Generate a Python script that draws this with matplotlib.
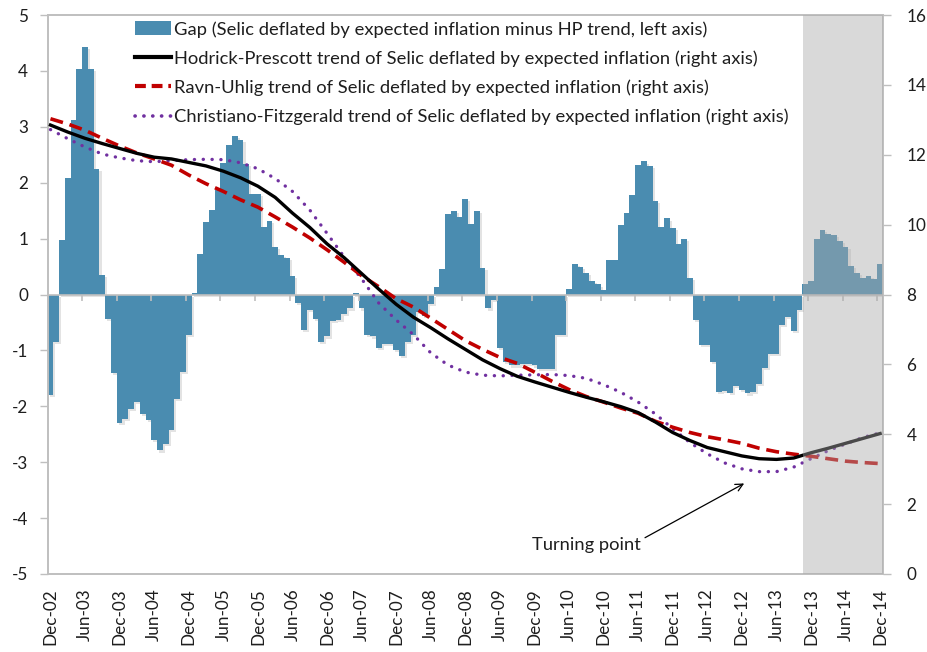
import numpy as np
import matplotlib
matplotlib.use('Agg')
import matplotlib.pyplot as plt
from matplotlib.patches import Patch
from matplotlib.lines import Line2D
import matplotlib.patheffects as pe

plt.rcParams['font.family'] = ['Lato', 'DejaVu Sans']
plt.rcParams['axes.unicode_minus'] = False

# Monthly gap (left axis), Dec-02 .. Dec-14
gap = [-1.80, -0.85, 0.97, 2.08, 3.12, 4.03, 4.43, 4.03, 2.24, 0.35,
       -0.43, -1.41, -2.30, -2.22, -2.04, -1.92, -2.13, -2.24, -2.61, -2.79,
       -2.67, -2.42, -1.87, -1.39, -0.72, 0.02, 0.73, 1.30, 1.51, 1.87,
       2.35, 2.67, 2.83, 2.76, 2.34, 1.80, 1.80, 1.20, 1.32, 0.85,
       0.70, 0.66, 0.33, -0.15, -0.63, -0.28, -0.44, -0.85, -0.75, -0.48,
       -0.45, -0.35, -0.25, 0.02, -0.25, -0.72, -0.75, -0.95, -0.88, -0.88,
       -1.00, -1.10, -0.85, -0.72, -0.32, -0.38, -0.17, 0.13, 0.45, 1.44,
       1.49, 1.38, 1.71, 1.27, 1.49, 0.47, -0.25, -0.09, -0.95, -1.20,
       -1.27, -1.27, -1.25, -1.25, -1.27, -1.33, -1.33, -1.33, -0.73, -0.73,
       0.09, 0.55, 0.50, 0.38, 0.25, 0.18, 0.08, 0.62, 0.61, 1.24,
       1.45, 1.78, 2.32, 2.38, 2.30, 1.68, 1.21, 1.36, 1.19, 0.90,
       1.00, 0.29, -0.46, -0.90, -0.90, -1.20, -1.74, -1.72, -1.76, -1.64,
       -1.70, -1.77, -1.74, -1.60, -1.32, -1.06, -1.06, -0.55, -0.40, -0.65,
       -0.27, 0.18, 0.24, 1.00, 1.16, 1.08, 1.06, 0.96, 0.85, 0.51,
       0.39, 0.29, 0.33, 0.27, 0.54]

# Trend series (right axis), read quarterly (month index 0, 3, ..., 144)
trend_month = list(range(0, 145, 3))
hp = [12.85, 12.65, 12.47, 12.32, 12.18, 12.04, 11.93, 11.88, 11.78, 11.68,
      11.53, 11.34, 11.10, 10.78, 10.33, 9.92, 9.45, 9.05, 8.60, 8.15,
      7.72, 7.35, 7.05, 6.73, 6.43, 6.13, 5.88, 5.66, 5.50, 5.35,
      5.20, 5.06, 4.93, 4.79, 4.62, 4.35, 4.05, 3.82, 3.62, 3.50,
      3.38, 3.30, 3.28, 3.32, 3.47, 3.60, 3.74, 3.88, 4.02]
ru = [13.03, 12.88, 12.70, 12.47, 12.25, 12.05, 11.88, 11.70, 11.42, 11.17,
      10.95, 10.71, 10.50, 10.22, 9.93, 9.62, 9.28, 8.92, 8.54, 8.22,
      7.88, 7.64, 7.32, 7.00, 6.68, 6.43, 6.20, 6.03, 5.78, 5.52,
      5.28, 5.08, 4.92, 4.75, 4.60, 4.37, 4.20, 4.05, 3.93, 3.84,
      3.74, 3.60, 3.50, 3.43, 3.37, 3.30, 3.23, 3.19, 3.16]
cf = [12.72, 12.46, 12.22, 12.02, 11.91, 11.83, 11.80, 11.83, 11.86, 11.87,
      11.86, 11.77, 11.60, 11.32, 10.95, 10.42, 9.75, 9.07, 8.45, 7.75,
      7.27, 6.85, 6.33, 5.98, 5.78, 5.69, 5.67, 5.69, 5.70, 5.71,
      5.68, 5.60, 5.42, 5.20, 4.92, 4.58, 4.16, 3.76, 3.44, 3.18,
      3.01, 2.93, 2.93, 3.06, 3.30, 3.53, 3.72, 3.91, 4.04]

tick_labels = ['Dec-02', 'Jun-03', 'Dec-03', 'Jun-04', 'Dec-04', 'Jun-05',
               'Dec-05', 'Jun-06', 'Dec-06', 'Jun-07', 'Dec-07', 'Jun-08',
               'Dec-08', 'Jun-09', 'Dec-09', 'Jun-10', 'Dec-10', 'Jun-11',
               'Dec-11', 'Jun-12', 'Dec-12', 'Jun-13', 'Dec-13', 'Jun-14',
               'Dec-14']
forecast_start = 131.2   # month index where the grey forecast band starts

legend_labels = [
    'Gap (Selic deflated by expected inflation minus HP trend, left axis)',
    'Hodrick-Prescott trend of Selic deflated by expected inflation (right axis)',
    'Ravn-Uhlig trend of Selic deflated by expected inflation (right axis)',
    'Christiano-Fitzgerald trend of Selic deflated by expected inflation (right axis)',
]

BAR = '#4A8CB0'
RED = '#C00000'
PURPLE = '#7030A0'
AXC = '#BFBFBF'
TXT = '#1E1E1E'
FS = 13.2      # legend / annotation
TFS = 12.3     # tick labels

W, H = 927, 652
fig = plt.figure(figsize=(W / 100, H / 100), dpi=100)
ax = fig.add_axes([47.6 / W, 1 - 574 / H, (883 - 47.6) / W, (574 - 15) / H])

x = np.arange(len(gap))
bars = ax.bar(x, gap, width=1.0, color=BAR, linewidth=0, zorder=2)
for b in bars:
    b.set_path_effects([pe.SimplePatchShadow(offset=(1.5, -1.5), shadow_rgbFace='#808080', alpha=0.22),
                        pe.Normal()])

ax.set_xlim(-0.5, len(gap) - 0.5)
ax.set_ylim(-5, 5)
ax.set_yticks(range(-5, 6))
ax.axhline(0, color=AXC, lw=1.2, zorder=3)
nb = len(tick_labels)
ax.vlines([6 * k - 0.5 for k in range(1, nb)], -0.11, 0, color=AXC, lw=1.2, zorder=3)

ax.set_xticks(range(0, len(gap), 6))
ax.set_xticklabels(tick_labels, rotation=90, fontsize=TFS, color=TXT)
ax.tick_params(axis='x', length=0, pad=10)
ax.tick_params(axis='y', length=6, width=1, color=AXC, labelsize=TFS, labelcolor=TXT, pad=8)
for s in ax.spines.values():
    s.set_color(AXC)
    s.set_linewidth(1.2)

ax2 = ax.twinx()
ax2.set_ylim(0, 16)
ax2.set_yticks(range(0, 17, 2))
ax2.tick_params(axis='y', length=6, width=1, color=AXC, labelsize=TFS, labelcolor=TXT, pad=11)
for s in ax2.spines.values():
    s.set_color(AXC)
    s.set_linewidth(1.2)

ax2.plot(trend_month, cf, color=PURPLE, lw=2.4, ls=(0, (0.05, 2.6)),
         dash_capstyle='round', zorder=4)
ax2.plot(trend_month, ru, color=RED, lw=2.6, ls=(0, (3.6, 1.9)), zorder=5)
ax2.plot(trend_month, hp, color='black', lw=2.4, zorder=6)

ax2.axvspan(forecast_start - 0.5, len(gap) - 0.5, color='#AAAAAA', alpha=0.44, lw=0, zorder=10)

ax.annotate('Turning point', xy=(120.4, -3.38), xytext=(83.6, -4.49),
            fontsize=FS, color=TXT, ha='left', va='center', zorder=20,
            arrowprops=dict(arrowstyle='->', color='black', lw=0.9,
                            relpos=(1.0, 0.85), shrinkA=1, shrinkB=0))

handles = [Patch(facecolor=BAR, edgecolor='none'),
           Line2D([], [], color='black', lw=3),
           Line2D([], [], color=RED, lw=3, ls=(0, (2.6, 1.4))),
           Line2D([], [], color=PURPLE, lw=2.6, ls=(0, (0.05, 2.4)), dash_capstyle='round')]
fig.legend(handles, legend_labels, loc='upper left', bbox_to_anchor=(135 / W, 1 - 21 / H),
           frameon=False, fontsize=FS, handlelength=1.95, handleheight=0.75, handletextpad=0.2,
           labelspacing=0.69, borderpad=0, borderaxespad=0, labelcolor=TXT)

fig.savefig('out.png', dpi=100)
